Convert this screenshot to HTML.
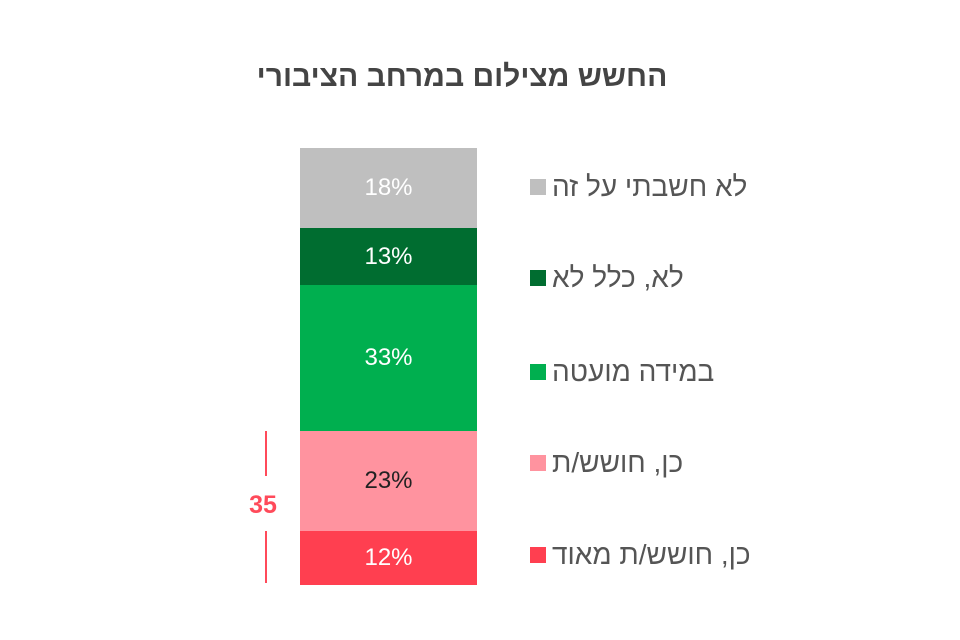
<!DOCTYPE html>
<html><head><meta charset="utf-8"><style>
body{margin:0;width:960px;height:640px;background:#fff;position:relative;overflow:hidden;font-family:"Liberation Sans","Noto Sans CJK JP",sans-serif}
.a{position:absolute}
.seg{position:absolute;left:300px;width:177px;display:flex;align-items:center;justify-content:center;font-size:24px;color:#fff}
.lg{position:absolute;left:530px;height:30px;display:flex;align-items:center;font-size:28px;color:#555;white-space:nowrap}
.lg i{display:inline-block;width:16px;height:16px;margin-right:6px}
.lg span{direction:rtl}
</style></head><body>
<div class="a" style="left:0;width:924px;top:60px;text-align:center;font-size:30px;font-weight:bold;color:#444;direction:rtl">החשש מצילום במרחב הציבורי</div>
<div class="seg" style="top:148px;height:80px;background:#bfbfbf">18%</div>
<div class="seg" style="top:228px;height:57px;background:#006d30">13%</div>
<div class="seg" style="top:285px;height:146px;background:#00af4f">33%</div>
<div class="seg" style="top:431px;height:100px;background:#ff939f;color:#222">23%</div>
<div class="seg" style="top:531px;height:54px;background:#ff3f50">12%</div>
<div class="lg" style="top:172px"><i style="background:#bfbfbf"></i><span>לא חשבתי על זה</span></div>
<div class="lg" style="top:263px"><i style="background:#006d30"></i><span>לא, כלל לא</span></div>
<div class="lg" style="top:357px"><i style="background:#00af4f"></i><span>במידה מועטה</span></div>
<div class="lg" style="top:448px"><i style="background:#ff939f"></i><span>כן, חושש/ת</span></div>
<div class="lg" style="top:540px"><i style="background:#ff3f50"></i><span>כן, חושש/ת מאוד</span></div>
<div class="a" style="left:265px;top:431px;width:2px;height:45px;background:#ff4a5a"></div>
<div class="a" style="left:265px;top:531px;width:2px;height:52px;background:#ff4a5a"></div>
<div class="a" style="left:238px;top:491px;width:50px;text-align:center;font-size:25px;font-weight:bold;color:#ff4a5a">35</div>
</body></html>
